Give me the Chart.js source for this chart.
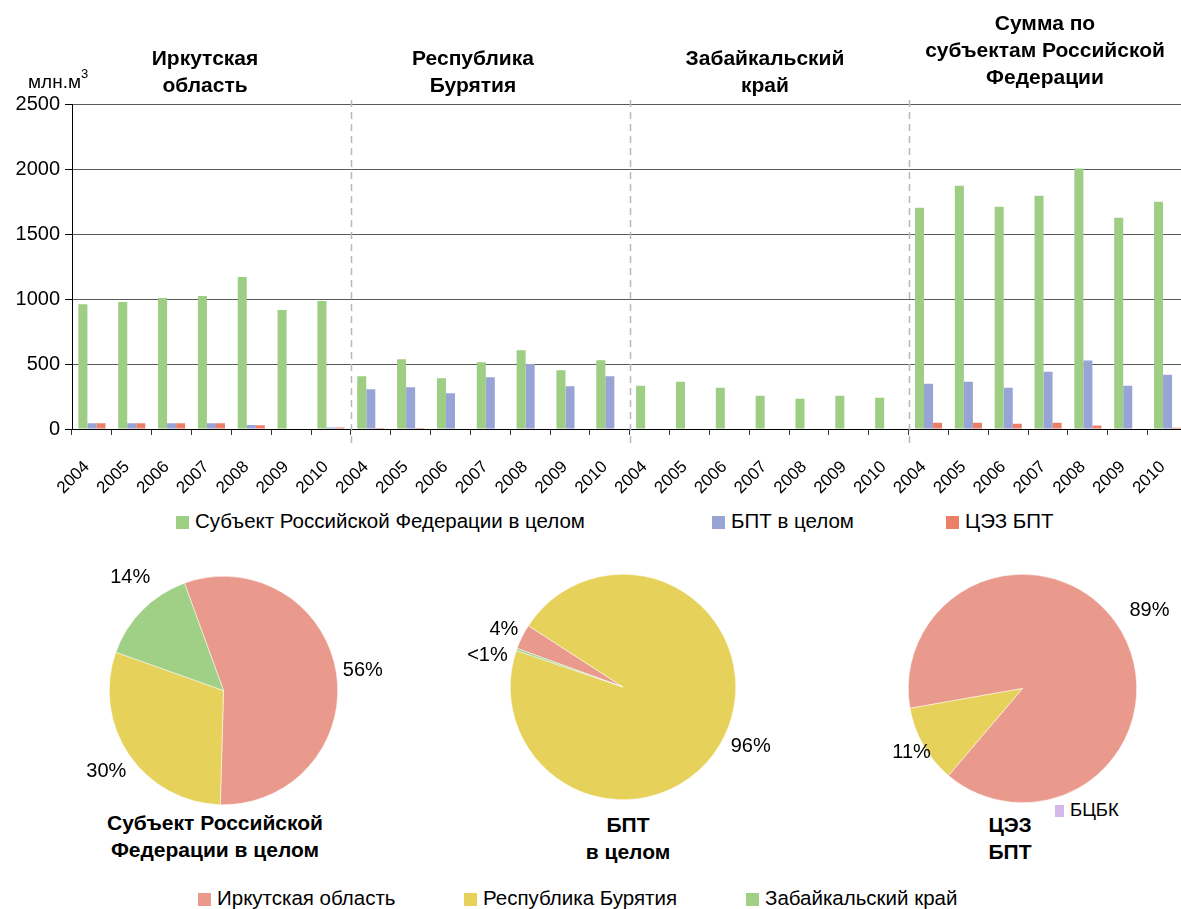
<!DOCTYPE html>
<html>
<head>
<meta charset="utf-8">
<script src="https://cdn.jsdelivr.net/npm/chart.js@4.4.1/dist/chart.umd.min.js"></script>
<style>
  body { margin: 0; background: #fff; overflow: hidden; font-family: "Liberation Sans", Arial, sans-serif; color: #000; }
  #page { position: relative; width: 1181px; height: 909px; overflow: hidden; }
  canvas { position: absolute; }
  .title { position: absolute; font-weight: bold; font-size: 21px; line-height: 27px; text-align: center; transform: translateX(-50%); white-space: nowrap; }
  .unit { position: absolute; left: 28px; top: 69px; font-size: 19px; }
  .unit sup { font-size: 13px; position: relative; top: -3px; }
  .leg { position: absolute; font-size: 20.5px; white-space: nowrap; line-height: 22px; }
  .leg i { display: inline-block; width: 13px; height: 13px; margin-right: 6px; vertical-align: -1px; }
</style>
</head>
<body>
<div id="page">
  <canvas id="bars" width="1204" height="500" style="left:0;top:0"></canvas>
  <div class="unit">млн.м<sup>3</sup></div>
  <div class="title" style="left:205px;top:44px">Иркутская<br>область</div>
  <div class="title" style="left:473px;top:44px">Республика<br>Бурятия</div>
  <div class="title" style="left:765px;top:44px">Забайкальский<br>край</div>
  <div class="title" style="left:1045px;top:9px">Сумма по<br>субъектам Российской<br>Федерации</div>

  <div class="leg" style="left:176px;top:510px"><i style="background:#9ecd84"></i>Субъект Российской Федерации в целом</div>
  <div class="leg" style="left:712px;top:510px"><i style="background:#98a3d6"></i>БПТ в целом</div>
  <div class="leg" style="left:946px;top:510px"><i style="background:#ea8067"></i>ЦЭЗ БПТ</div>

  <div class="title" style="left:215px;top:809px">Субъект Российской<br>Федерации в целом</div>
  <div class="title" style="left:628px;top:811px">БПТ<br>в целом</div>
  <div class="title" style="left:1010px;top:811px">ЦЭЗ<br>БПТ</div>

  <div class="leg" style="left:1055px;top:799px;font-size:18.5px"><i style="background:#d5b8e8;width:9px;height:12px"></i>БЦБК</div>

  <div class="leg" style="left:198px;top:887px"><i style="background:#ea9a8d"></i>Иркутская область</div>
  <div class="leg" style="left:464px;top:887px"><i style="background:#e6d15b"></i>Республика Бурятия</div>
  <div class="leg" style="left:746px;top:887px"><i style="background:#9fd086"></i>Забайкальский край</div>
</div>
<script>
const years = ['2004', '2005', '2006', '2007', '2008', '2009', '2010'];
const groups = ['Иркутская область', 'Республика Бурятия', 'Забайкальский край', 'Сумма по субъектам'];
const yTicks = [0, 500, 1000, 1500, 2000, 2500];

// 4 groups x 7 years
const subjectTotal = [
  960, 977, 1008, 1023, 1170, 915, 984,
  405, 536, 390, 513, 605, 451, 528,
  333, 364, 318, 256, 233, 256, 241,
  1702, 1872, 1710, 1795, 2003, 1625, 1749
];
const bptTotal = [
  45, 45, 45, 45, 30, 4, 12,
  305, 321, 275, 398, 500, 328, 405,
  0, 0, 0, 0, 0, 0, 0,
  349, 364, 318, 441, 526, 333, 418
];
const cezBpt = [
  45, 45, 45, 45, 28, 4, 12,
  8, 8, 0, 0, 0, 0, 0,
  0, 0, 0, 0, 0, 0, 0,
  49, 49, 41, 49, 26, 4, 10
];

const pieRegions = ['Иркутская область', 'Республика Бурятия', 'Забайкальский край', 'БЦБК'];
const pieColors = ['#ea9a8d', '#e6d15b', '#9fd086', '#d5b8e8'];
const pieSubject = [56, 30, 14, 0];
const pieSubjectText = ['56%', '30%', '14%', ''];
const pieBpt = [3.6, 96.1, 0.3, 0];
const pieBptText = ['4%', '96%', '<1%', ''];
const pieCez = [89, 11, 0, 0];
const pieCezText = ['89%', '11%', '', ''];

const labels = groups.flatMap(() => years);
const FONT = '"Liberation Sans", Arial, sans-serif';

const separators = {
  id: 'separators',
  afterDatasetsDraw(chart) {
    const x = chart.scales.x;
    const ctx = chart.ctx;
    const area = chart.chartArea;
    ctx.save();
    ctx.strokeStyle = '#b8b8b8';
    ctx.lineWidth = 1.5;
    ctx.setLineDash([7, 5]);
    [7, 14, 21].forEach(i => {
      const px = Math.round((x.getPixelForValue(i - 1) + x.getPixelForValue(i)) / 2) + 0.5;
      ctx.beginPath();
      ctx.moveTo(px, area.top - 4);
      ctx.lineTo(px, area.bottom + 14);
      ctx.stroke();
    });
    ctx.restore();
  }
};

new Chart(document.getElementById('bars'), {
  type: 'bar',
  data: {
    labels,
    datasets: [
      { label: 'Субъект Российской Федерации в целом', data: subjectTotal, backgroundColor: '#9ecd84' },
      { label: 'БПТ в целом', data: bptTotal, backgroundColor: '#98a3d6' },
      { label: 'ЦЭЗ БПТ', data: cezBpt, backgroundColor: '#ea8067' }
    ]
  },
  options: {
    responsive: false,
    animation: false,
    categoryPercentage: 0.68,
    barPercentage: 1,
    layout: { padding: { top: 104, right: 0, left: 0, bottom: 0 } },
    plugins: { legend: { display: false }, tooltip: { enabled: false } },
    scales: {
      x: {
        afterFit: s => { s.height = 71; },
        grid: { offset: true, drawOnChartArea: false, color: '#333', tickLength: 6 },
        border: { color: '#000' },
        ticks: { minRotation: 45, maxRotation: 45, padding: 22, labelOffset: -5, color: '#000', font: { family: FONT, size: 17 } }
      },
      y: {
        min: 0,
        max: 2500,
        afterFit: s => { s.width = 72; },
        afterBuildTicks: s => { s.ticks = yTicks.map(v => ({ value: v })); },
        grid: { color: '#5a5a5a', tickColor: '#000', tickLength: 7 },
        border: { color: '#000' },
        ticks: { padding: 5, color: '#000', font: { family: FONT, size: 20 }, callback: v => String(v) }
      }
    }
  },
  plugins: [separators]
});

const pieText = {
  id: 'pieText',
  afterDraw(chart, args, opts) {
    const ctx = chart.ctx;
    const arcs = chart.getDatasetMeta(0).data;
    ctx.save();
    ctx.font = '20px ' + FONT;
    ctx.fillStyle = '#000';
    ctx.textAlign = 'center';
    ctx.textBaseline = 'middle';
    arcs.forEach((arc, i) => {
      const txt = opts.text[i];
      if (!txt) return;
      const mid = (arc.startAngle + arc.endAngle) / 2;
      const r = arc.outerRadius * 1.2;
      const nudge = (opts.nudge && opts.nudge[i]) || [0, 0];
      ctx.fillText(txt, arc.x + Math.cos(mid) * r + nudge[0], arc.y + Math.sin(mid) * r + nudge[1]);
    });
    ctx.restore();
  }
};

function makePie(values, text, rotation, cx, cy, r, nudge) {
  const pad = { left: 90, right: 90, top: 40, bottom: 40 };
  const canvas = document.createElement('canvas');
  canvas.width = 2 * r + pad.left + pad.right;
  canvas.height = 2 * r + pad.top + pad.bottom;
  canvas.style.left = (cx - r - pad.left) + 'px';
  canvas.style.top = (cy - r - pad.top) + 'px';
  document.getElementById('page').appendChild(canvas);
  new Chart(canvas, {
    type: 'pie',
    data: {
      labels: pieRegions,
      datasets: [{ data: values, backgroundColor: pieColors, borderColor: '#fff', borderWidth: 0.5 }]
    },
    options: {
      responsive: false,
      animation: false,
      rotation,
      layout: { padding: pad },
      plugins: { legend: { display: false }, tooltip: { enabled: false }, pieText: { text, nudge } }
    },
    plugins: [pieText]
  });
}

makePie(pieSubject, pieSubjectText, -20, 223.5, 690.5, 114.5, [[4, 2], [-4, 4], [4, -16]]);
makePie(pieBpt, pieBptText, -70, 623, 687, 113, [[2, 3], [6, 0], [-8, 14]]);
makePie(pieCez, pieCezText, -100, 1022.5, 688, 114.5, [[8, -10], [8, -4]]);
</script>
</body>
</html>
